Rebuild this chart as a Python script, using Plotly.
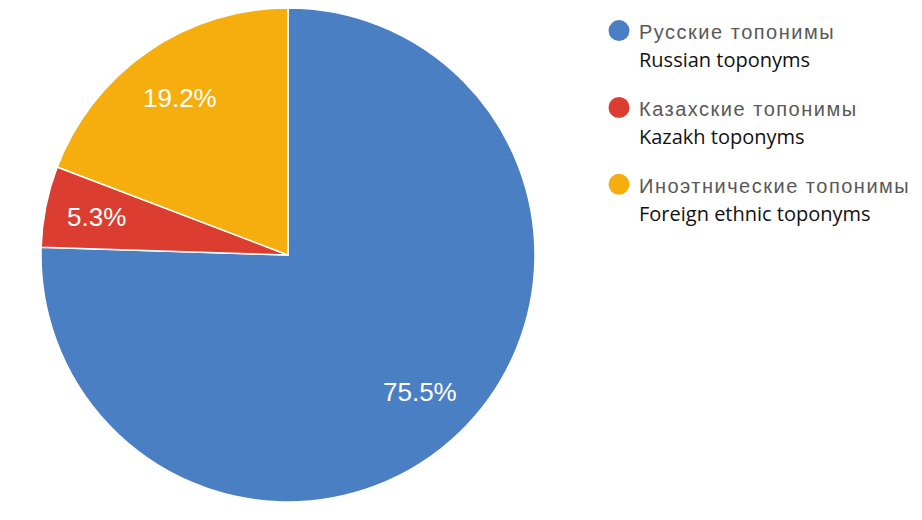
import math
import plotly.graph_objects as go

labels_ru = ["Русские топонимы", "Казахские топонимы", "Иноэтнические топонимы"]
labels_en = ["Russian toponyms", "Kazakh toponyms", "Foreign ethnic toponyms"]
shares = [75.5, 5.3, 19.2]
colors = ["#4b7fc3", "#dc3d31", "#f5ae0e"]

# pie placement in paper coords (the page adds an 8px body margin)
W, H = 922, 520
dom_x = [0.0358, 0.5716]
dom_y = [0.05, 1.0]

fig = go.Figure()

fig.add_trace(go.Pie(
    values=shares,
    labels=labels_ru,
    textinfo="none",
    hoverinfo="label+percent",
    marker=dict(colors=colors, line=dict(color="white", width=1.5)),
    sort=False,
    direction="clockwise",
    rotation=0,
    showlegend=False,
    domain=dict(x=dom_x, y=dom_y),
))

# slice labels, google-charts style: along the mid angle of each slice
cx = (dom_x[0] + dom_x[1]) / 2 * W
cy = (dom_y[0] + dom_y[1]) / 2 * H
r = min((dom_x[1] - dom_x[0]) * W, (dom_y[1] - dom_y[0]) * H) / 2
total = sum(shares)
start = 0.0
for v in shares:
    mid = (start + v / 2) / total * 2 * math.pi
    start += v
    k = 0.77 if v > 10 else 0.79
    px = cx + k * r * math.sin(mid)
    py = cy + k * r * math.cos(mid)
    fig.add_annotation(
        x=px / W, y=py / H, xref="paper", yref="paper",
        xanchor="center", yanchor="middle",
        text="%.1f%%" % v, showarrow=False,
        font=dict(family="Liberation Sans, Arial", size=26, color="white"),
    )

# legend entries with round markers
for i in range(len(labels_ru)):
    name = ("<span style='color:#585858;font-family:Liberation Sans;font-size:20px;letter-spacing:1.5px'>%s</span><br>"
            "<span style='color:#111111;font-family:Open Sans;font-size:20px'>%s</span>") % (labels_ru[i], labels_en[i])
    fig.add_trace(go.Scatter(
        x=[None], y=[None], mode="markers", name=name,
        legendgroup="g%d" % i,
        marker=dict(color=colors[i], size=16, symbol="circle",
                    line=dict(color=colors[i], width=5)),
    ))

fig.update_layout(
    width=W, height=H,
    margin=dict(l=0, r=0, t=0, b=0),
    paper_bgcolor="white",
    plot_bgcolor="white",
    xaxis=dict(visible=False),
    yaxis=dict(visible=False),
    legend=dict(
        x=0.641, y=0.996, xanchor="left", yanchor="top",
        font=dict(size=21.5, family="Liberation Sans"),
        tracegroupgap=18,
        valign="top",
        itemsizing="trace",
    ),
)

fig.write_html("out.html")
